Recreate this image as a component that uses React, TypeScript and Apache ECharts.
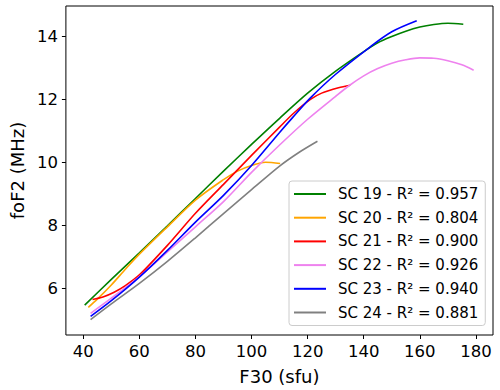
import React, { useEffect, useRef } from "react";
import * as echarts from "echarts";

const xTicks = [40, 60, 80, 100, 120, 140, 160, 180];
const yTicks = [6, 8, 10, 12, 14];

const seriesNames = [
  "SC 19 - R² = 0.957",
  "SC 20 - R² = 0.804",
  "SC 21 - R² = 0.900",
  "SC 22 - R² = 0.926",
  "SC 23 - R² = 0.940",
  "SC 24 - R² = 0.881",
];
const seriesColors = ["#008000", "#FFA500", "#FF0000", "#EE82EE", "#0000FF", "#808080"];

const sc19: [number, number][] = [
  [40.5, 5.46], [50, 6.28], [60, 7.12], [70, 7.98], [80, 8.85], [90, 9.72], [100, 10.57],
  [110, 11.4], [120, 12.2], [130, 12.9], [140, 13.52], [145, 13.8], [150, 14.0], [155, 14.17],
  [160, 14.3], [165, 14.38], [170, 14.42], [175.5, 14.39],
];
const sc20: [number, number][] = [
  [41.8, 5.39], [45, 5.65], [50, 6.1], [55, 6.6], [60, 7.08], [70, 7.95], [80, 8.8],
  [90, 9.45], [95, 9.72], [100, 9.9], [105, 10.0], [110.2, 9.96],
];
const sc21: [number, number][] = [
  [43.3, 5.64], [47, 5.72], [51, 5.87], [55, 6.08], [60, 6.42], [70, 7.36], [80, 8.38],
  [90, 9.3], [100, 10.22], [110, 11.12], [115, 11.56], [121, 12.0], [125, 12.2], [131, 12.37], [135.2, 12.45],
];
const sc22: [number, number][] = [
  [42.6, 5.2], [50, 5.68], [60, 6.37], [70, 7.15], [80, 7.95], [90, 8.75], [100, 9.68],
  [110, 10.55], [120, 11.37], [130, 12.1], [135, 12.45], [140, 12.75], [145, 12.98], [150, 13.15],
  [155, 13.26], [160, 13.32], [165, 13.31], [170, 13.23], [175, 13.1], [179.2, 12.93],
];
const sc23: [number, number][] = [
  [42.6, 5.1], [50, 5.6], [60, 6.35], [70, 7.2], [80, 8.1], [90, 8.95], [100, 9.9],
  [110, 10.95], [114.7, 11.43], [121, 12.05], [130, 12.8], [142, 13.65], [150, 14.15], [158.9, 14.5],
];
const sc24: [number, number][] = [
  [42.6, 5.0], [50, 5.5], [60, 6.15], [70, 6.85], [80, 7.6], [90, 8.37], [100, 9.13],
  [110, 9.88], [117, 10.32], [123.5, 10.67],
];

const seriesData = [sc19, sc20, sc21, sc22, sc23, sc24];

const FONT = "DejaVu Sans";

export default function App() {
  const ref = useRef<HTMLDivElement>(null);
  useEffect(() => {
    if (!ref.current) return;
    const chart = echarts.init(ref.current, undefined, { renderer: "svg" });
    chart.setOption({
      animation: false,
      backgroundColor: "#ffffff",
      grid: {
        left: 60,
        top: 6,
        right: 7,
        bottom: 54,
        show: true,
        borderColor: "#000000",
        borderWidth: 1,
        backgroundColor: "transparent",
      },
      legend: {
        orient: "vertical",
        left: 289,
        top: 181,
        padding: [5, 7, 5, 5],
        itemWidth: 32,
        itemHeight: 2,
        itemGap: 7.7,
        icon: "rect",
        backgroundColor: "rgba(255,255,255,0.8)",
        borderColor: "#cccccc",
        borderWidth: 1,
        borderRadius: 3,
        textStyle: {
          fontFamily: FONT,
          fontSize: 15,
          color: "#000000",
          lineHeight: 16,
          padding: [0, 0, 0, 7],
        },
        data: seriesNames,
      },
      xAxis: {
        type: "value",
        min: 33.8,
        max: 186.1,
        name: "F30 (sfu)",
        nameLocation: "middle",
        nameGap: 32,
        nameTextStyle: { fontFamily: FONT, fontSize: 18, color: "#000000" },
        splitLine: { show: false },
        axisLine: { show: false },
        axisTick: { show: true, customValues: xTicks, length: 4, lineStyle: { color: "#000000" } },
        axisLabel: {
          customValues: xTicks,
          fontFamily: FONT,
          fontSize: 16.5,
          color: "#000000",
          margin: 8,
        },
      },
      yAxis: {
        type: "value",
        min: 4.51,
        max: 14.97,
        name: "foF2 (MHz)",
        nameLocation: "middle",
        nameGap: 37,
        nameRotate: 90,
        nameTextStyle: { fontFamily: FONT, fontSize: 18, color: "#000000" },
        splitLine: { show: false },
        axisLine: { show: false },
        axisTick: { show: true, customValues: yTicks, length: 4, lineStyle: { color: "#000000" } },
        axisLabel: {
          customValues: yTicks,
          fontFamily: FONT,
          fontSize: 16.5,
          color: "#000000",
          margin: 8,
        },
      },
      series: seriesData.map((d, i) => ({
        name: seriesNames[i],
        type: "line",
        data: d,
        smooth: 0.3,
        showSymbol: false,
        symbol: "none",
        color: seriesColors[i],
        lineStyle: { color: seriesColors[i], width: 1.6 },
      })),
    });
    return () => chart.dispose();
  }, []);
  return <div ref={ref} style={{ width: 500, height: 390, position: "absolute", left: 0, top: 0 }} />;
}
